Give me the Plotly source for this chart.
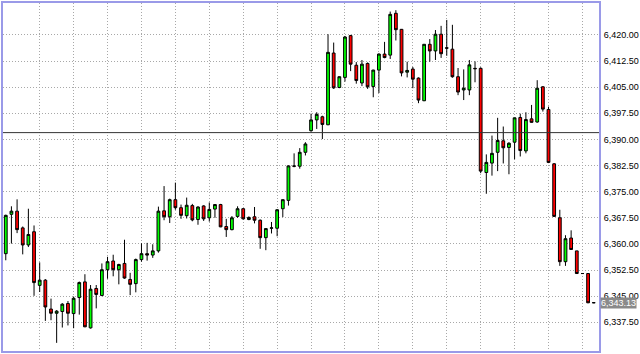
import plotly.graph_objects as go

# Bar index (time axis has no labels in the reference)
bar_index = list(range(105))

open_ = [6357.2, 6368.5, 6369.4, 6364.6, 6359.7, 6363.5, 6348.1, 6349.6, 6341.3, 6340.1,
         6340.6, 6342.9, 6340.0, 6344.6, 6349.1, 6335.9, 6347.2, 6345.2, 6352.6, 6355.1,
         6352.6, 6354.4, 6349.8, 6348.6, 6355.5, 6357.2, 6356.8, 6358.0, 6369.5, 6367.8,
         6372.7, 6370.4, 6368.1, 6371.0, 6367.0, 6370.9, 6367.5, 6370.0, 6371.3, 6365.0,
         6364.1, 6367.9, 6370.1, 6367.0, 6367.8, 6366.8, 6361.8, 6364.5, 6364.5, 6370.1,
         6372.5, 6382.4, 6382.3, 6386.3, 6392.5, 6395.6, 6396.5, 6394.2, 6414.8, 6404.9,
         6407.8, 6419.8, 6411.3, 6406.2, 6411.8, 6405.2, 6409.9, 6414.5, 6414.2, 6426.2,
         6421.6, 6409.3, 6410.2, 6407.6, 6401.1, 6417.3, 6415.4, 6420.2, 6416.3, 6415.9,
         6408.0, 6404.2, 6404.2, 6410.4, 6410.4, 6380.5, 6383.2, 6386.3, 6389.6, 6387.7,
         6389.2, 6396.3, 6386.7, 6395.9, 6395.0, 6405.1, 6398.6, 6383.0, 6367.5, 6354.9,
         6361.7, 6358.0, 6351.5, 6351.5, 6343.1]
high = [6368.4, 6370.8, 6372.8, 6365.0, 6370.1, 6365.3, 6354.7, 6349.9, 6344.3, 6341.0,
        6343.0, 6343.6, 6344.9, 6349.2, 6351.3, 6348.2, 6348.2, 6354.4, 6356.3, 6356.9,
        6354.3, 6361.2, 6351.7, 6355.8, 6360.2, 6360.3, 6359.9, 6370.7, 6376.6, 6373.0,
        6377.6, 6371.3, 6373.3, 6371.5, 6370.8, 6371.1, 6371.9, 6371.4, 6371.5, 6367.2,
        6368.0, 6370.8, 6370.3, 6367.9, 6370.6, 6367.0, 6364.5, 6366.3, 6370.0, 6372.8,
        6382.5, 6386.0, 6387.5, 6389.2, 6397.4, 6397.8, 6396.8, 6420.2, 6417.8, 6408.1,
        6419.7, 6420.0, 6412.2, 6412.8, 6412.1, 6410.0, 6414.7, 6418.0, 6426.7, 6427.1,
        6421.7, 6412.3, 6410.8, 6407.8, 6417.4, 6418.8, 6421.4, 6422.6, 6424.3, 6422.9,
        6410.5, 6410.1, 6412.8, 6412.4, 6410.7, 6385.7, 6391.1, 6396.2, 6393.7, 6389.2,
        6396.2, 6397.4, 6397.8, 6399.9, 6407.0, 6405.3, 6399.4, 6383.2, 6369.8, 6362.5,
        6363.9, 6358.0, 6351.6, 6351.6, 6343.2]
low = [6355.3, 6360.1, 6363.1, 6357.0, 6359.1, 6345.1, 6346.2, 6337.9, 6338.1, 6331.6,
       6336.0, 6336.6, 6335.8, 6339.7, 6336.1, 6335.7, 6341.5, 6345.0, 6350.0, 6350.7,
       6348.4, 6350.0, 6345.3, 6346.1, 6354.9, 6355.2, 6356.0, 6357.5, 6366.8, 6366.0,
       6369.8, 6367.2, 6367.3, 6366.5, 6365.5, 6366.6, 6366.4, 6367.5, 6364.8, 6362.0,
       6363.9, 6367.5, 6367.0, 6366.8, 6365.9, 6358.6, 6358.2, 6363.0, 6362.2, 6367.7,
       6371.0, 6382.0, 6381.6, 6385.4, 6392.2, 6393.0, 6390.1, 6394.1, 6404.5, 6404.7,
       6406.6, 6409.6, 6406.0, 6405.3, 6404.5, 6402.1, 6403.3, 6413.3, 6413.1, 6418.4,
       6408.1, 6407.8, 6404.7, 6400.4, 6401.0, 6412.3, 6412.8, 6413.4, 6414.0, 6407.7,
       6402.7, 6401.3, 6402.7, 6406.4, 6380.3, 6374.4, 6379.6, 6380.9, 6383.1, 6380.0,
       6384.3, 6385.1, 6386.0, 6394.8, 6394.8, 6398.0, 6383.2, 6367.8, 6353.7, 6353.7,
       6358.3, 6351.4, 6351.4, 6343.0, 6343.0]
close = [6368.2, 6369.4, 6364.1, 6359.7, 6362.7, 6348.9, 6349.6, 6341.9, 6340.1, 6340.7,
         6342.7, 6340.1, 6344.4, 6348.9, 6336.2, 6347.0, 6345.5, 6352.6, 6354.9, 6352.6,
         6354.1, 6350.2, 6348.4, 6355.5, 6357.2, 6356.8, 6358.0, 6369.4, 6367.8, 6372.7,
         6370.4, 6368.2, 6371.1, 6366.9, 6370.6, 6367.2, 6369.9, 6371.3, 6364.9, 6364.1,
         6367.5, 6370.1, 6367.2, 6367.6, 6366.8, 6361.8, 6364.4, 6364.6, 6369.8, 6372.7,
         6382.4, 6382.3, 6386.3, 6388.7, 6395.6, 6397.2, 6394.3, 6415.0, 6404.8, 6408.0,
         6419.4, 6411.6, 6406.9, 6411.6, 6405.1, 6409.9, 6414.5, 6413.5, 6425.9, 6421.5,
         6409.1, 6409.8, 6407.3, 6401.3, 6417.3, 6415.4, 6420.2, 6414.6, 6416.2, 6408.0,
         6403.6, 6404.7, 6411.4, 6410.3, 6380.9, 6383.4, 6386.0, 6389.7, 6387.6, 6388.9,
         6396.2, 6386.8, 6395.7, 6394.9, 6404.7, 6398.7, 6383.4, 6367.9, 6354.9, 6361.5,
         6358.4, 6351.5, 6351.5, 6343.1, 6343.13]

y_ticks = [6337.5, 6345.0, 6352.5, 6360.0, 6367.5, 6375.0, 6382.5, 6390.0,
           6397.5, 6405.0, 6412.5, 6420.0]
x_grid = list(range(6, 105, 6))
hline_level = 6391.95
last_price = 6343.13
last_label = "6,343.13"

fig = go.Figure()
fig.add_trace(go.Candlestick(
    x=bar_index, open=open_, high=high, low=low, close=close,
    increasing=dict(fillcolor="#00ff00", line=dict(color="#000000", width=1)),
    decreasing=dict(fillcolor="#ff0000", line=dict(color="#000000", width=1)),
    whiskerwidth=0, showlegend=False, hoverinfo="skip",
))

fig.add_shape(type="line", xref="paper", x0=0, x1=1, yref="y",
              y0=hline_level, y1=hline_level,
              line=dict(color="#333333", width=1))

fig.add_annotation(xref="paper", x=1, xanchor="left", xshift=1,
                   y=last_price, yref="y", yanchor="middle",
                   text=last_label, showarrow=False,
                   bgcolor="#8a8a8a", borderpad=0,
                   font=dict(family="Liberation Sans", size=9, color="#ffffff"))

fig.update_layout(
    width=640, height=354,
    margin=dict(l=1, r=36, t=2, b=3),
    paper_bgcolor="#ffffff", plot_bgcolor="#ffffff",
    boxgap=0.3,
    font=dict(family="Liberation Sans", size=9, color="#000000"),
    showlegend=False,
)
fig.update_xaxes(
    range=[-0.49, 104.93], rangeslider=dict(visible=False),
    tickvals=x_grid, showticklabels=False, ticks="",
    showgrid=True, gridcolor="#a8a8a8", griddash="1px,2px", gridwidth=1,
    showline=True, mirror=True, linecolor="#9a9ae8", linewidth=2,
    zeroline=False,
)
fig.update_yaxes(
    range=[6329.26, 6429.16], side="right",
    tickvals=y_ticks, tickformat=",.2f", ticks="",
    showgrid=True, gridcolor="#a8a8a8", griddash="1px,2px", gridwidth=1,
    showline=True, mirror=True, linecolor="#9a9ae8", linewidth=2,
    zeroline=False, ticklabelstandoff=1,
    tickfont=dict(family="Liberation Sans", size=9, color="#000000"),
)

fig.write_html("out.html")
